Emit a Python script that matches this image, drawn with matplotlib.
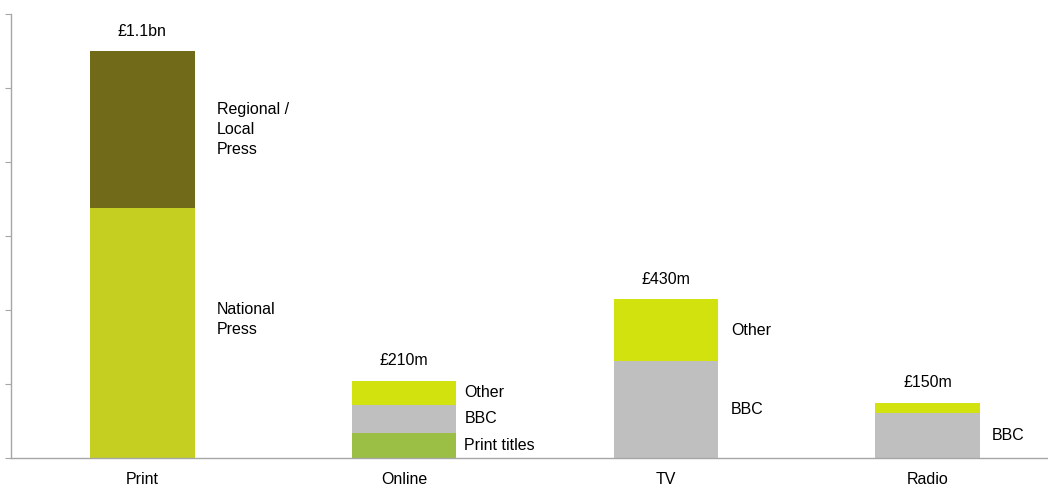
import matplotlib
matplotlib.use("Agg")
import matplotlib.pyplot as plt
import numpy as np

plt.rcParams['font.family'] = ['Liberation Sans', 'DejaVu Sans']

categories = ["Print", "Online", "TV", "Radio"]
totals = ["£1.1bn", "£210m", "£430m", "£150m"]

# segments per category: (label, value, colour) bottom to top
segments = {
    "Print": [("National\nPress", 675, "#C4CF22"), ("Regional /\nLocal\nPress", 425, "#716A19")],
    "Online": [("Print titles", 68, "#9BBF45"), ("BBC", 75, "#BFBFBF"), ("Other", 66, "#D2E20E")],
    "TV": [("BBC", 262, "#BFBFBF"), ("Other", 167, "#D2E20E")],
    "Radio": [("BBC", 122, "#BFBFBF"), ("", 27, "#D2E20E")],
}

# label gap from bar edge (pixels) per category
label_dx = [22, 8, 13, 12]

fig = plt.figure(figsize=(10.48, 4.87), dpi=100)
ax = fig.add_axes([0.0105, 0.0595, 0.9895, 0.9117])

fs = 11.5
width = 0.40
x = np.arange(len(categories))
for i, cat in enumerate(categories):
    bottom = 0
    for j, (label, val, col) in enumerate(segments[cat]):
        ax.bar(i, val, width, bottom=bottom, color=col, edgecolor='none')
        if label:
            dy = 14 if (cat == "Print" and j == 0) else 0
            ax.annotate(label, (i + width / 2, bottom + val / 2),
                        xytext=(label_dx[i], dy), textcoords='offset pixels',
                        ha='left', va='center', fontsize=fs, color='#000000',
                        linespacing=1.4)
        bottom += val
    ax.annotate(totals[i], (i, bottom), xytext=(0, 20), textcoords='offset pixels',
                ha='center', va='center', fontsize=fs, color='#000000')

ax.set_xlim(-0.502, 3.46)
ax.set_ylim(0, 1200)
ax.set_xticks(x)
ax.set_xticklabels(categories, fontsize=fs)
ax.set_yticks(np.arange(0, 1201, 200))
ax.set_yticklabels([])
ax.tick_params(axis='x', length=0, pad=10)
ax.tick_params(axis='y', length=4, color='#A6A6A6', direction='out')
for s in ['top', 'right']:
    ax.spines[s].set_visible(False)
for s in ['left', 'bottom']:
    ax.spines[s].set_color('#A6A6A6')
    ax.spines[s].set_linewidth(1)

fig.savefig("out.png", dpi=100)
